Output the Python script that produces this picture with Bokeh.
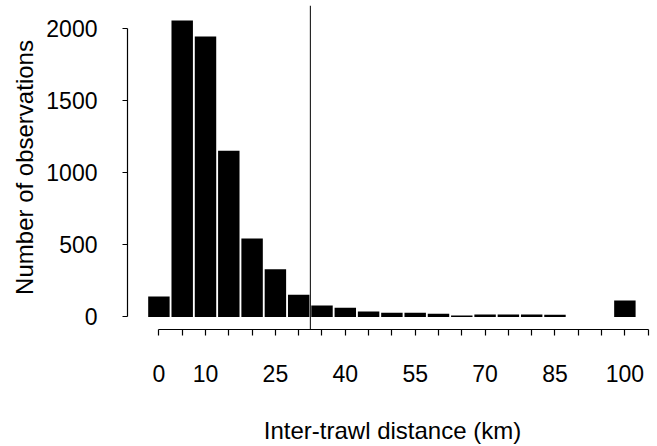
from bokeh.plotting import figure
from bokeh.models import Span, FixedTicker, Range1d
from bokeh.embed import file_html
from bokeh.resources import INLINE

# Data
bins = [0, 5, 10, 15, 20, 25, 30, 35, 40, 45, 50, 55, 60, 65, 70, 75, 80, 85, 100]
counts = [142, 2053, 1942, 1151, 544, 331, 154, 80, 64, 38, 29, 29, 22, 10, 17, 17, 17, 15, 114]
x_ticks = [0, 5, 10, 15, 20, 25, 30, 35, 40, 45, 50, 55, 60, 65, 70, 75, 80, 85, 90, 95, 100, 105]
x_tick_labels = ["0", "", "10", "", "", "25", "", "", "40", "", "", "55", "", "",
                 "70", "", "", "85", "", "", "100", ""]
y_ticks = [0, 500, 1000, 1500, 2000]
cutoff = 32.5

FONT = "Liberation Sans"

p = figure(width=657, height=446, output_backend="svg", toolbar_location=None,
           x_range=Range1d(-6.74, 107.0), y_range=Range1d(-86.6, 2157.2),
           min_border_left=127, min_border_right=0, min_border_top=5, min_border_bottom=117)
p.outline_line_color = None
p.grid.visible = False
p.background_fill_color = "white"
p.border_fill_color = "white"

p.vbar(x=bins, top=counts, bottom=0, width=4.6, fill_color="black", line_color=None)
p.add_layout(Span(location=cutoff, dimension="height", line_color="black", line_width=1))

xa = p.xaxis[0]
xa.ticker = FixedTicker(ticks=x_ticks)
xa.major_label_overrides = {t: l for t, l in zip(x_ticks, x_tick_labels)}
xa.bounds = (x_ticks[0], x_ticks[-1])
xa.minor_tick_line_color = None
xa.major_tick_out = 6
xa.major_tick_in = 0
xa.major_label_standoff = 29
xa.axis_label = "Inter-trawl distance (km)"
xa.axis_label_standoff = 32

ya = p.yaxis[0]
ya.ticker = FixedTicker(ticks=y_ticks)
ya.bounds = (y_ticks[0], y_ticks[-1])
ya.minor_tick_line_color = None
ya.major_tick_out = 5
ya.major_tick_in = 0
ya.major_label_standoff = 25
ya.major_label_orientation = "horizontal"
ya.axis_label = "Number of observations"
ya.axis_label_standoff = 5

for ax in (xa, ya):
    ax.axis_line_color = "black"
    ax.axis_line_width = 1.2
    ax.major_tick_line_color = "black"
    ax.major_tick_line_width = 1.2
    ax.major_label_text_font = FONT
    ax.major_label_text_font_size = "23px"
    ax.major_label_text_color = "black"
    ax.axis_label_text_font = FONT
    ax.axis_label_text_font_size = "24px"
    ax.axis_label_text_font_style = "normal"
    ax.axis_label_text_color = "black"

open("out.html", "w").write(file_html(p, INLINE))
